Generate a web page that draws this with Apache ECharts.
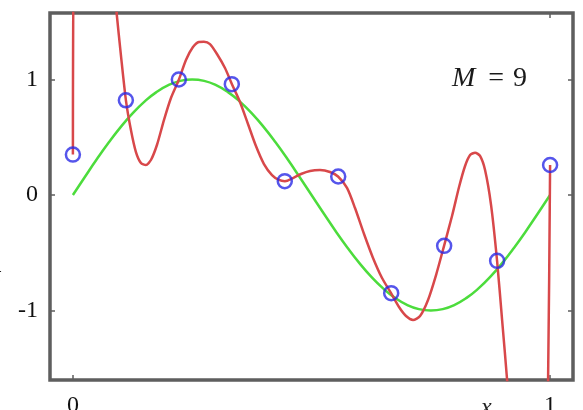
<!DOCTYPE html>
<html>
<head>
<meta charset="utf-8">
<script src="https://cdn.jsdelivr.net/npm/echarts@6/dist/echarts.min.js"></script>
<style>
  html, body { margin: 0; padding: 0; background: #ffffff; }
  #chart { width: 583px; height: 410px; }
</style>
</head>
<body>
<div id="chart"></div>
<script>
// ---- data ----
const xTicks = [0, 1];
const yTicks = [-1, 0, 1];

// observed data points (blue circles)
const pointX = [0, 0.111, 0.222, 0.333, 0.444, 0.556, 0.667, 0.778, 0.889, 1];
const pointT = [0.35, 0.82, 1.0, 0.96, 0.12, 0.16, -0.85, -0.44, -0.57, 0.26];

// green underlying curve
const sinX = [0, 0.025, 0.05, 0.075, 0.1, 0.125, 0.15, 0.175, 0.2, 0.225, 0.25,
              0.275, 0.3, 0.325, 0.35, 0.375, 0.4, 0.425, 0.45, 0.475, 0.5,
              0.525, 0.55, 0.575, 0.6, 0.625, 0.65, 0.675, 0.7, 0.725, 0.75,
              0.775, 0.8, 0.825, 0.85, 0.875, 0.9, 0.925, 0.95, 0.975, 1];
const sinT = [0, 0.156, 0.309, 0.454, 0.588, 0.707, 0.809, 0.891, 0.951, 0.988, 1.0,
              0.988, 0.951, 0.891, 0.809, 0.707, 0.588, 0.454, 0.309, 0.156, 0,
              -0.156, -0.309, -0.454, -0.588, -0.707, -0.809, -0.891, -0.951, -0.988, -1.0,
              -0.988, -0.951, -0.891, -0.809, -0.707, -0.588, -0.454, -0.309, -0.156, 0];

// red M = 9 polynomial fit (values beyond the frame are clipped)
const fitX = [0, 0.0042, 0.0881, 0.0916, 0.1006, 0.1111, 0.1216, 0.1321, 0.1426, 0.1530,
              0.1635, 0.1761, 0.1908, 0.2055, 0.2222, 0.2369, 0.2516, 0.2642, 0.2746, 0.2872,
              0.3019, 0.3187, 0.3333, 0.3501, 0.3669, 0.3836, 0.4004, 0.4172, 0.4319, 0.4444,
              0.4612, 0.4780, 0.4969, 0.5178, 0.5388, 0.5556, 0.5744, 0.5912, 0.6101, 0.6289,
              0.6478, 0.6667, 0.6834, 0.6981, 0.7128, 0.7275, 0.7442, 0.7610, 0.7778, 0.7945,
              0.8092, 0.8218, 0.8323, 0.8428, 0.8532, 0.8637, 0.8763, 0.8889, 0.8994, 0.9099,
              0.9182, 0.9895, 0.9958, 1];
const fitT = [0.35, 2.55, 1.73, 1.576, 1.212, 0.82, 0.563, 0.372, 0.277, 0.26,
              0.303, 0.433, 0.649, 0.84, 1.0, 1.169, 1.281, 1.325, 1.327, 1.307,
              1.221, 1.10, 0.96, 0.805, 0.615, 0.424, 0.268, 0.173, 0.13, 0.12,
              0.147, 0.182, 0.208, 0.216, 0.199, 0.16, 0.061, -0.113, -0.338, -0.545,
              -0.719, -0.85, -0.97, -1.048, -1.082, -1.048, -0.909, -0.693, -0.44, -0.182,
              0.069, 0.251, 0.346, 0.366, 0.338, 0.216, -0.087, -0.57, -1.082, -1.602,
              -2.12, -2.64, -1.60, 0.26];

const pair = (xs, ys) => xs.map((x, i) => [x, ys[i]]);

const chart = echarts.init(document.getElementById('chart'), null, { renderer: 'canvas' });

const frameColor = '#5e5e5e';
const serif = '"Liberation Serif", "Times New Roman", Times, serif';
const labelFont = { fontFamily: serif, fontSize: 24, color: '#111111' };
const tickStyle = { color: frameColor, width: 1.5 };

chart.setOption({
  animation: false,
  backgroundColor: '#ffffff',
  grid: {
    left: 50, top: 13, right: 10, bottom: 30,
    outerBoundsMode: 'none', containLabel: false,
    show: true, borderColor: frameColor, borderWidth: 3.5, backgroundColor: '#ffffff'
  },
  title: {
    text: '{i|M}{e|=}{n|9}',
    left: 452, top: 65, padding: 0,
    textStyle: {
      fontFamily: serif, fontSize: 28, color: '#1a1a1a', fontWeight: 'normal',
      rich: {
        i: { fontFamily: serif, fontStyle: 'italic', fontSize: 28, color: '#1a1a1a' },
        e: { fontFamily: serif, fontSize: 28, color: '#1a1a1a', padding: [0, 9, 0, 13] },
        n: { fontFamily: serif, fontSize: 28, color: '#1a1a1a' }
      }
    }
  },
  graphic: [
    { type: 'text', left: 481, top: 396,
      style: { text: 'x', fontFamily: serif, fontStyle: 'italic', fontSize: 24, fill: '#222' } },
    { type: 'text', left: -6, top: 264,
      style: { text: 't', fontFamily: serif, fontStyle: 'italic', fontSize: 24, fill: '#222' } }
  ],
  xAxis: [
    {
      type: 'value', min: -0.048, max: 1.048, position: 'bottom',
      splitLine: { show: false },
      axisLine: { show: false, onZero: false },
      axisTick: { show: true, inside: true, length: 5, customValues: xTicks, lineStyle: tickStyle },
      axisLabel: { show: true, customValues: xTicks, margin: 14, ...labelFont }
    },
    {
      type: 'value', min: -0.048, max: 1.048, position: 'top',
      splitLine: { show: false },
      axisLine: { show: false, onZero: false },
      axisTick: { show: true, inside: true, length: 5, customValues: xTicks, lineStyle: tickStyle },
      axisLabel: { show: false }
    }
  ],
  yAxis: [
    {
      type: 'value', min: -1.602, max: 1.576, position: 'left',
      splitLine: { show: false },
      axisLine: { show: false, onZero: false },
      axisTick: { show: true, inside: true, length: 5, customValues: yTicks, lineStyle: tickStyle },
      axisLabel: { show: true, customValues: yTicks, margin: 12, padding: [5, 0, 0, 0], ...labelFont }
    },
    {
      type: 'value', min: -1.602, max: 1.576, position: 'right',
      splitLine: { show: false },
      axisLine: { show: false, onZero: false },
      axisTick: { show: true, inside: true, length: 5, customValues: yTicks, lineStyle: tickStyle },
      axisLabel: { show: false }
    }
  ],
  series: [
    {
      name: 'sin', type: 'line', data: pair(sinX, sinT), smooth: true,
      showSymbol: false, clip: true, z: 2,
      lineStyle: { color: '#4cdc3c', width: 2.5 }
    },
    {
      name: 'fit', type: 'line', data: pair(fitX, fitT), smooth: 0.25,
      showSymbol: false, clip: true, z: 3,
      lineStyle: { color: '#d8484a', width: 2.5 }
    },
    {
      name: 'points', type: 'scatter', data: pair(pointX, pointT),
      symbol: 'circle', symbolSize: 14, z: 4,
      itemStyle: { color: 'rgba(0,0,0,0)', borderColor: '#2a2ae6', borderWidth: 2.5 }
    }
  ]
});
</script>
</body>
</html>
